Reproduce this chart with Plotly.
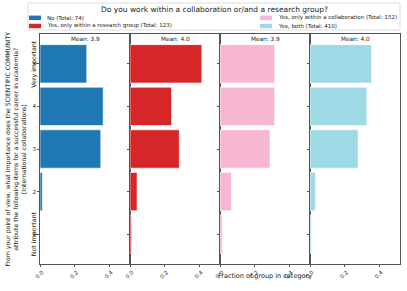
import plotly.graph_objects as go
from plotly.subplots import make_subplots

categories = [1, 2, 3, 4, 5]
groups = ["No (Total: 74)",
          "Yes, only within a research group (Total: 123)",
          "Yes, only within a collaboration (Total: 152)",
          "Yes, both (Total: 410)"]
means = ["Mean: 3.9", "Mean: 4.0", "Mean: 3.9", "Mean: 4.0"]
frac_no = [0.0, 0.0135, 0.351, 0.365, 0.270]
frac_research = [0.008, 0.041, 0.285, 0.240, 0.415]
frac_collab = [0.013, 0.066, 0.289, 0.316, 0.316]
frac_both = [0.008, 0.031, 0.278, 0.328, 0.355]
colors = ["#1f77b4", "#d62728", "#f7b6d2", "#9edae5"]
xticks = [0.0, 0.2, 0.4]
xtick_text = ["0.0", "0.2", "0.4"]
legend_title = "Do you work within a collaboration or/and a research group?"

W, H = 407, 291
L, R, T, B = 40, 7, 34, 27
pw = W - L - R
ph = H - T - B
FONT = "DejaVu Sans"

def px_x(x):
    return (x - L) / pw

def px_y(y):
    return (H - B - y) / ph

fig = make_subplots(rows=1, cols=4, shared_yaxes=True, horizontal_spacing=0)
series = [frac_no, frac_research, frac_collab, frac_both]
for i, (vals, name, col) in enumerate(zip(series, groups, colors)):
    fig.add_trace(go.Bar(x=vals, y=categories, orientation="h", name=name,
                         marker=dict(color=col, line=dict(color="rgba(255,255,255,0.6)", width=1)),
                         width=0.9, showlegend=False, hoverinfo="skip"), row=1, col=i + 1)
    fig.update_xaxes(row=1, col=i + 1, range=[0, 0.52], tickvals=xticks, ticktext=xtick_text,
                     tickangle=-45, showline=True, mirror=True, linecolor="#555", linewidth=1,
                     ticks="outside", ticklen=2, tickcolor="#555", showgrid=False, zeroline=False,
                     ticklabelshift=2,
                     tickfont=dict(size=5.5, family=FONT, color="#222"))
    fig.update_yaxes(row=1, col=i + 1, range=[0.3, 5.7], tickvals=categories,
                     showline=True, mirror=True, linecolor="#555", linewidth=1,
                     ticks="outside", ticklen=2, tickcolor="#555", showgrid=False, zeroline=False,
                     showticklabels=(i == 0),
                     tickfont=dict(size=5.5, family=FONT, color="#222"))
    fig.add_annotation(text=means[i], xref=f"x{'' if i == 0 else i + 1} domain", yref="paper",
                       x=0.5, y=1.0, yanchor="top", showarrow=False, yshift=0,
                       font=dict(size=5.8, family=FONT, color="#222"))

# manual legend (two columns like the reference)
shapes = [dict(type="rect", xref="paper", yref="paper", x0=px_x(28), x1=px_x(400),
               y0=px_y(30), y1=px_y(3), line=dict(color="#ddd", width=1), fillcolor="white",
               layer="above")]
fig.add_annotation(text=legend_title, xref="paper", yref="paper", x=px_x(214), y=px_y(9.5),
                   showarrow=False, yanchor="middle", font=dict(size=7.5, family=FONT, color="#222"))
legend_pos = [(29, 17.8), (29, 26), (260, 17.8), (260, 26)]
for (lx, ly), name, col in zip(legend_pos, groups, colors):
    shapes.append(dict(type="rect", xref="paper", yref="paper", x0=px_x(lx), x1=px_x(lx + 12),
                       y0=px_y(ly + 2.2), y1=px_y(ly - 2.2), line=dict(width=0), fillcolor=col,
                       layer="above"))
    fig.add_annotation(text=name, xref="paper", yref="paper", x=px_x(lx + 16), y=px_y(ly),
                       xanchor="left", yanchor="middle", showarrow=False,
                       font=dict(size=5.5, family=FONT, color="#222"))

ytitle = ("From your point of view, what importance does the SCIENTIFIC COMMUNITY<br>"
          "attribute the following items for a successful career in academia?<br>"
          "[International collaborations]")
fig.add_annotation(text=ytitle, xref="paper", yref="paper", x=px_x(14.5), y=0.5,
                   textangle=-90, showarrow=False, xanchor="center", yanchor="middle",
                   font=dict(size=6.2, family=FONT, color="#222"))
fig.add_annotation(text="Very important", xref="paper", yref="y", x=px_x(28), y=5,
                   textangle=-90, showarrow=False, font=dict(size=6.3, family=FONT, color="#222"))
fig.add_annotation(text="Not important", xref="paper", yref="y", x=px_x(28), y=1,
                   textangle=-90, showarrow=False, font=dict(size=6.3, family=FONT, color="#222"))
fig.add_annotation(text="Fraction of group in category", xref="paper", yref="paper",
                   x=px_x(265), y=px_y(282), showarrow=False,
                   font=dict(size=6.5, family=FONT, color="#222"))

fig.update_layout(
    width=W, height=H, margin=dict(l=L, r=R, t=T, b=B, autoexpand=False),
    paper_bgcolor="white", plot_bgcolor="white", bargap=0, showlegend=False,
    font=dict(family=FONT, color="#222"), shapes=shapes, hovermode=False,
)
fig.write_html("out.html", config={"displayModeBar": False, "staticPlot": True},
               post_script="document.body.style.margin='0';document.body.style.overflow='hidden';")
